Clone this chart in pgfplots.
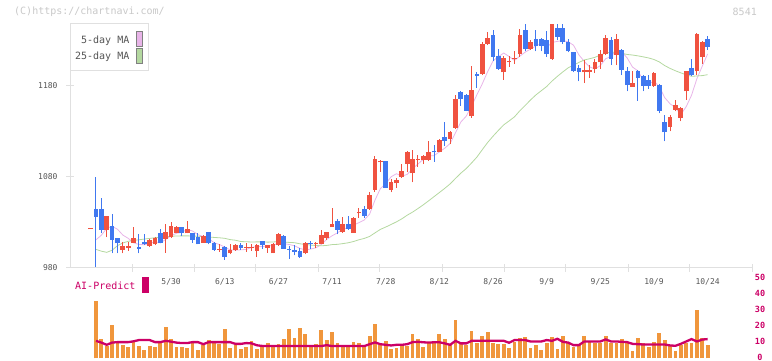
\documentclass[border=0pt]{standalone}
\usepackage{pgfplots}
\pgfplotsset{compat=1.18}
\usepackage{pgfplotstable}
\usepackage{fontspec}
\setmainfont{DejaVu Sans Mono}
\setmonofont{DejaVu Sans Mono}
\definecolor{upred}{HTML}{F05240}
\definecolor{dnblue}{HTML}{4078F0}
\definecolor{volorange}{HTML}{F0963C}
\definecolor{aicrim}{HTML}{CC0066}
\definecolor{maf}{HTML}{E8B4E8}
\definecolor{mat}{HTML}{B4D8A0}
\definecolor{axisgray}{HTML}{E0E0E0}
\definecolor{textgray}{HTML}{555555}
\definecolor{wmgray}{HTML}{C8C8C8}

\pgfplotstableread{
i o h l c
-1 1023 1024.2 1023 1024.2
2 1022 1037 1014 1037
5 1000 1009 996 1004
6 1002 1009 999 1004
7 1008 1025 1007 1013
10 1004 1012 1003 1011
11 1006 1014 1005 1013
13 1012 1028 997 1020
14 1014 1030 1013 1026
15 1019 1026 1018 1025
17 1018 1032 1018 1023
20 1008 1016 1008 1015
23 1000 1006 998 1001
25 996 1006 995 1000
26 1000 1006 999 1005
28 1002 1007 998 1003
29 1002 1006 999 1003
30 999 1006 992 1005
32 1002 1005 997 1005
33 996 1007 996 1006
34 1005 1018 1004 1017
39 996 1009 995 1008
41 1006 1009 1002 1007
42 1006 1022 1006 1016
43 1013 1020 1011 1020
44 1025 1046 1025 1028
46 1020 1036 1019 1028
48 1019 1036 1019 1035
49 1040 1046 1035 1041
51 1045 1064 1044 1060
52 1066 1103 1064 1100
53 1096 1099 1086 1098
55 1066 1078 1063 1075
56 1073 1079 1068 1077
57 1080 1094 1079 1087
58 1094 1109 1085 1107
59 1084 1110 1074 1100
60 1099 1104 1091 1100
61 1099 1104 1094 1103
62 1099 1120 1098 1107
64 1108 1122 1107 1121
66 1122 1130 1116 1129
67 1134 1170 1133 1166
70 1147 1202 1145 1176
72 1193 1228 1192 1226
73 1226 1239 1225 1233
76 1195 1213 1187 1211
77 1206 1213 1201 1207
78 1210 1218 1204 1211
79 1215 1243 1212 1236
81 1221 1230 1220 1228
85 1210 1248 1209 1248
91 1195 1209 1183 1198
92 1195 1203 1189 1198
93 1199 1210 1194 1206
94 1206 1220 1199 1215
95 1215 1236 1214 1233
97 1214 1237 1203 1232
100 1179 1196 1179 1183
104 1180 1195 1179 1194
107 1135 1148 1130 1146
108 1154 1165 1152 1159
109 1145 1157 1141 1156
110 1174 1197 1165 1196
112 1196 1238 1192 1237
113 1212 1229 1204 1228
}\upc

\pgfplotstableread{
i o h l c
0 1045 1080 981 1036
1 1045 1057 1018 1022
3 1026 1039 996 1011
4 1013 1013 996 1007
8 1003.5 1017 996 1001
9 1009 1017 1005 1006
12 1019 1023 1007 1007
16 1025 1025 1015 1018
18 1019 1019 1008 1011
19 1014 1018 1006 1006
21 1020 1020 1006 1007
22 1008 1009 999 1000
24 1003 1004 989 992
27 1005 1007 1000 1002
31 1010 1010 1001 1005
35 1015 1016 1001 1001
36 1001 1004 990 1000
37 1000 1005 994 998
38 999 1002 991 992
40 1007 1010 1001 1006
45 1032 1034 1017 1022
47 1028 1037 1022 1023
50 1045 1048 1035 1037
54 1098 1098 1068 1068
63 1108.6 1115 1097 1107
65 1124 1140 1114 1120
68 1173 1175 1158 1166
69 1170 1171 1152 1153
71 1193 1195 1178 1191
74 1236 1242 1207 1212
75 1213 1221 1198 1199
80 1241 1248 1218 1221
82 1232 1242 1218 1224
83 1232 1233 1218 1224
84 1230 1240 1212 1215
86 1244 1248 1230 1234
87 1244 1248 1226 1228
88 1228 1232 1217 1218
89 1217 1217 1195 1196
90 1200 1203 1185 1195
96 1230 1234 1203 1210
98 1220 1221 1192 1198
99 1196 1201 1174 1181
101 1196 1198 1164 1189
102 1191 1192 1174 1180
103 1187 1192 1177 1180
105 1181 1182 1150 1153
106 1140 1148 1119 1129
111 1200 1210 1191 1192
114 1232 1235 1220 1223
}\dnc

\pgfplotstableread{
i ma5 ma25
0 1011.0 1000.5
1 1016.0 998.5
2 1023.6 997.2
3 1025.8 999.5
4 1022.6 1004.5
5 1016.2 1007.5
6 1012.6 1009.3
7 1007.8 1010.3
8 1005.8 1011.0
9 1005.6 1011.8
10 1007.0 1012.5
11 1008.8 1013.3
12 1007.6 1013.8
13 1011.4 1014.3
14 1015.4 1014.8
15 1018.2 1015.2
16 1019.2 1015.3
17 1022.4 1015.3
18 1020.6 1015.2
19 1016.6 1014.9
20 1014.6 1014.5
21 1012.4 1014.0
22 1007.8 1013.6
23 1005.8 1013.2
24 1003.0 1012.6
25 1000.0 1011.2
26 999.6 1010.5
27 1000.0 1009.1
28 1000.4 1008.8
29 1002.6 1008.6
30 1003.6 1008.7
31 1003.6 1008.7
32 1004.2 1008.4
33 1004.8 1008.6
34 1007.6 1009.0
35 1006.8 1008.6
36 1005.8 1008.1
37 1004.4 1007.8
38 1001.6 1006.6
39 999.8 1005.9
40 1000.8 1005.2
41 1002.2 1004.7
42 1005.8 1004.4
43 1011.4 1004.8
44 1015.4 1005.7
45 1018.6 1006.0
46 1022.8 1006.8
47 1024.2 1007.7
48 1027.2 1009.1
49 1029.8 1011.0
50 1032.8 1012.5
51 1039.2 1014.7
52 1054.6 1018.6
53 1067.2 1022.4
54 1072.6 1025.0
55 1080.2 1027.8
56 1083.6 1030.7
57 1081.0 1034.0
58 1082.8 1038.0
59 1089.2 1041.4
60 1094.2 1045.3
61 1099.4 1049.4
62 1103.4 1053.8
63 1103.4 1058.4
64 1107.6 1062.9
65 1111.6 1067.5
66 1116.8 1072.4
67 1128.6 1078.4
68 1140.4 1084.2
69 1146.8 1089.2
70 1158.0 1095.4
71 1170.4 1101.9
72 1182.4 1110.0
73 1195.8 1117.9
74 1207.6 1124.8
75 1212.2 1131.2
76 1216.2 1137.3
77 1212.4 1141.6
78 1208.0 1146.1
79 1212.8 1152.8
80 1217.2 1158.6
81 1220.6 1164.7
82 1224.0 1170.2
83 1226.6 1174.8
84 1222.4 1179.4
85 1227.8 1185.4
86 1229.0 1190.6
87 1229.8 1195.4
88 1228.6 1199.9
89 1224.8 1202.9
90 1214.2 1205.9
91 1207.0 1208.6
92 1201.0 1209.9
93 1198.6 1211.5
94 1202.4 1214.0
95 1210.0 1216.3
96 1212.4 1217.0
97 1219.2 1217.3
98 1217.6 1215.9
99 1210.8 1214.6
100 1200.8 1214.0
101 1196.6 1213.1
102 1186.2 1212.0
103 1182.6 1210.8
104 1185.2 1209.1
105 1179.2 1206.4
106 1167.2 1202.4
107 1160.4 1199.3
108 1156.2 1196.7
109 1148.6 1194.4
110 1157.2 1192.3
111 1169.8 1190.6
112 1188.0 1191.0
113 1201.8 1191.4
114 1215.2 1192.4
}\mas

\pgfplotstableread{
i v ai
0 36.4 11.1
1 12.0 10.0
2 8.0 8.6
3 21.2 10.0
4 9.8 10.3
5 8.7 10.3
6 7.5 10.3
7 10.7 10.8
8 8.1 11.6
9 5.5 11.6
10 8.1 11.6
11 7.5 10.3
12 9.5 10.3
13 20.1 11.1
14 12.4 10.6
15 7.3 10.0
16 7.5 9.7
17 6.9 9.7
18 11.1 10.3
19 5.5 10.3
20 8.6 9.0
21 11.8 10.3
22 11.1 10.3
23 9.0 10.3
24 18.7 10.3
25 6.9 10.3
26 8.6 9.2
27 6.1 9.2
28 7.5 9.7
29 11.1 9.5
30 6.1 8.3
31 7.3 7.9
32 10.0 7.8
33 7.3 7.8
34 9.1 7.8
35 12.4 7.8
36 18.8 7.8
37 12.8 7.8
38 19.4 7.8
39 15.5 7.8
40 7.4 7.8
41 9.2 7.8
42 18.0 7.8
43 11.8 8.4
44 16.6 7.8
45 9.9 7.8
46 7.4 7.8
47 7.4 7.8
48 10.5 7.8
49 9.9 7.8
50 8.0 7.8
51 14.3 9.0
52 21.8 10.1
53 8.5 9.0
54 11.1 8.6
55 6.2 8.2
56 6.8 8.6
57 8.6 8.6
58 8.0 9.0
59 15.5 10.3
60 12.4 10.5
61 7.5 10.2
62 9.7 10.0
63 9.7 10.2
64 15.5 10.2
65 12.4 9.5
66 8.2 8.6
67 24.3 11.1
68 9.7 9.5
69 8.2 9.5
70 17.4 11.1
71 9.7 11.1
72 14.3 11.1
73 16.8 11.1
74 9.7 11.1
75 9.3 11.1
76 9.3 11.1
77 6.9 9.9
78 10.1 11.6
79 12.8 11.6
80 13.8 11.6
81 6.9 10.7
82 8.2 10.7
83 5.5 10.7
84 9.7 11.6
85 13.7 11.1
86 6.1 12.4
87 14.3 10.5
88 9.7 10.0
89 7.5 8.4
90 8.2 8.4
91 14.3 10.7
92 10.1 10.7
93 9.7 10.7
94 9.7 10.7
95 14.3 12.0
96 9.7 10.7
97 9.7 10.7
98 12.4 10.5
99 9.7 10.3
100 5.0 9.2
101 13.0 9.0
102 9.7 8.8
103 7.5 8.8
104 10.5 8.8
105 16.2 8.8
106 11.5 8.8
107 8.6 8.2
108 5.0 8.0
109 8.4 9.2
110 9.7 10.7
111 9.7 12.2
112 30.2 10.7
113 13.0 11.9
114 8.4 12.2
}\vol

\pgfplotsset{
  candle/.style 2 args={draw=none, mark=none, forget plot,
    error bars/.cd, y dir=plus, y explicit, error mark=none,
    error bar style={draw=#1, solid, line width=#2}},
}

\begin{document}
\begin{tikzpicture}
\useasboundingbox (0,0) rectangle (772pt,361pt);

% watermark texts
\node[anchor=west, text=wmgray, font=\fontsize{10}{10}\selectfont, inner sep=0pt] at (14pt,349pt) {(C)https://chartnavi.com/};
\node[anchor=east, text=wmgray, font=\fontsize{10}{10}\selectfont, inner sep=0pt] at (757pt,349pt) {8541};

\begin{axis}[
  at={(70pt,93pt)}, anchor=south west,
  scale only axis, width=682pt, height=244pt,
  xmin=-4.846, xmax=122.27, ymin=980, ymax=1248.1,
  axis x line*=bottom, axis y line*=left,
  axis line style={draw=axisgray, line width=1pt, -},
  xtick={6.71,18.27,29.82,41.38,52.93,64.49,76.05,87.60,99.16,110.71,122.27},
  xticklabels={},
  ytick={980,1080,1180}, yticklabels={980,1080,1180},
  /pgf/number format/assume math mode=true,
  tick align=center, major tick length=8pt,
  tick style={draw=axisgray, line width=1pt},
  yticklabel style={font=\fontsize{8}{8}\selectfont, text=textgray, anchor=east, xshift=-5pt},
  clip=false,
]
\addplot[maf, line width=0.8pt] table[x=i, y=ma5] {\mas};
\addplot[mat, line width=0.8pt] table[x=i, y=ma25] {\mas};
% wicks
\addplot[candle={upred}{1pt}]
  table[x=i, y=l, y error expr=\thisrow{h}-\thisrow{l}] {\upc};
\addplot[candle={dnblue}{1pt}]
  table[x=i, y=l, y error expr=\thisrow{h}-\thisrow{l}] {\dnc};
% bodies
\addplot[candle={upred}{4.7pt}]
  table[x=i, y=o, y error expr=\thisrow{c}-\thisrow{o}] {\upc};
\addplot[candle={dnblue}{4.7pt}]
  table[x=i, y=c, y error expr=\thisrow{o}-\thisrow{c}] {\dnc};
% date labels
\foreach \p/\t in {14/5\slash 30,24/6\slash 13,34/6\slash 27,44/7\slash 11,54/7\slash 28,64/8\slash 12,74/8\slash 26,84/9\slash 9,94/9\slash 25,104/10\slash 9,114/10\slash 24}{
  \edef\temp{\noexpand\node[text=textgray, font=\noexpand\fontsize{8}{8}\noexpand\selectfont, inner sep=0pt] at (axis cs:\p,980) [yshift=-14pt] {\t};}
  \temp
}
\end{axis}

% legend
\draw[axisgray, line width=1pt, fill=white] (70pt,290pt) rectangle (148pt,337pt);
\node[anchor=east, text=textgray, font=\fontsize{10}{10}\selectfont, inner sep=0pt] at (129.5pt,320pt) {5-day MA};
\node[anchor=east, text=textgray, font=\fontsize{10}{10}\selectfont, inner sep=0pt] at (129.5pt,304pt) {25-day MA};
\draw[draw=gray, line width=0.8pt, fill=maf] (136.5pt,314.5pt) rectangle (142.5pt,329.5pt);
\draw[draw=gray, line width=0.8pt, fill=mat] (136.5pt,298pt) rectangle (142.5pt,312.5pt);

% AI predict label
\node[anchor=west, text=aicrim, font=\fontsize{10}{10}\selectfont, inner sep=0pt] at (75pt,75pt) {AI-Predict};
\fill[aicrim] (142pt,68pt) rectangle (149pt,84pt);

\begin{axis}[
  at={(70pt,2.5pt)}, anchor=south west,
  scale only axis, width=682pt, height=79.5pt,
  xmin=-4.846, xmax=122.27, ymin=0, ymax=50,
  axis x line=none, axis y line*=right,
  y axis line style={draw=none},
  xtick=\empty,
  ytick={0,10,20,30,40,50}, yticklabels={0,10,20,30,40,50},
  /pgf/number format/assume math mode=true,
  major tick length=0pt,
  yticklabel style={font=\bfseries\fontsize{8.5}{8.5}\selectfont, text=aicrim, anchor=center, xshift=8pt, yshift=1.3pt},
  clip=false,
]
\addplot[ycomb, draw=volorange, line width=3.8pt] table[x=i, y=v] {\vol};
\addplot[aicrim, line width=2.3pt] table[x=i, y=ai] {\vol};
\end{axis}
\end{tikzpicture}
\end{document}
